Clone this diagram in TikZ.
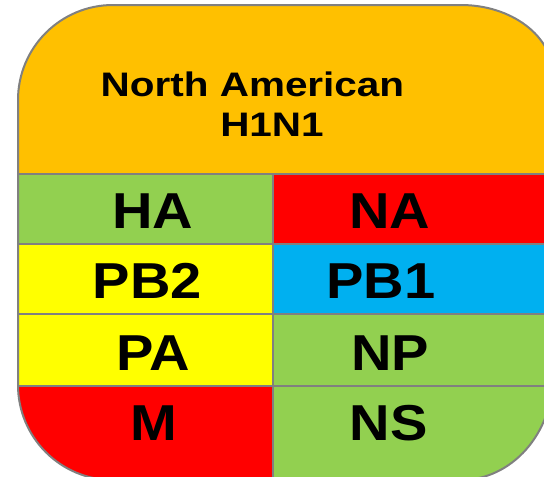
\documentclass[tikz,border=0pt]{standalone}
\usepackage{fontspec}
\setmainfont{Liberation Sans}
\definecolor{hdrorange}{HTML}{FFC000}
\definecolor{seggreen}{HTML}{92D050}
\definecolor{segred}{HTML}{FF0000}
\definecolor{segyellow}{HTML}{FFFF00}
\definecolor{segblue}{HTML}{00B0F0}
\definecolor{rimgray}{HTML}{808080}
\begin{document}
\begin{tikzpicture}[x=1pt,y=-1pt,
  shellpath/.style={insert path={
      (18,100) arc (180:270:95) -- (461,5)
      arc (270:360:92 and 70) -- (553,376)
      arc (0:90:92 and 104) -- (113,480)
      arc (90:180:95) -- cycle}},
  rim/.style={draw=rimgray, line width=2pt},
  titletext/.style={font=\fontsize{34}{34}\selectfont\bfseries, anchor=base,
      inner sep=0pt, xscale=1.19},
  segtext/.style={font=\fontsize{50.5}{50}\selectfont\bfseries, anchor=base,
      inner sep=0pt, xscale=1.11}]
\useasboundingbox (0,0) rectangle (544,477);
\clip (0,0) rectangle (544,477);

% coloured bands of the virus card
\begin{scope}
  \clip[shellpath];
  \fill[hdrorange] (0,0) rectangle (560,173.5);
  \fill[seggreen]  (0,173.5) rectangle (272.5,243.5);
  \fill[segred]    (272.5,173.5) rectangle (560,243.5);
  \fill[segyellow] (0,243.5) rectangle (272.5,314);
  \fill[segblue]   (272.5,243.5) rectangle (560,314);
  \fill[segyellow] (0,314) rectangle (272.5,385.5);
  \fill[seggreen]  (272.5,314) rectangle (560,385.5);
  \fill[segred]    (0,385.5) rectangle (272.5,490);
  \fill[seggreen]  (272.5,385.5) rectangle (560,490);
  % dividers between the gene segments
  \draw[rim] (0,173.5) -- (560,173.5);
  \draw[rim] (0,243.5) -- (560,243.5);
  \draw[rim] (0,314) -- (560,314);
  \draw[rim] (0,385.5) -- (560,385.5);
  \draw[rim] (272.5,173.5) -- (272.5,490);
\end{scope}
\draw[rim, shellpath];

% header
\node[titletext] (title1) at (252.5,96) {North American};
\node[titletext] (title2) at (272,136) {H1N1};

% gene segment labels
\node[segtext] (ha)  at (152.5,228.5) {HA};
\node[segtext] (na)  at (390,228.5) {NA};
\node[segtext] (pb2) at (147.5,298) {PB2};
\node[segtext] (pb1) at (381,298) {PB1};
\node[segtext] (pa)  at (153,370) {PA};
\node[segtext] (np)  at (390,370) {NP};
\node[segtext] (m)   at (154,440.5) {M};
\node[segtext] (ns)  at (388.5,440.5) {NS};
\end{tikzpicture}
\end{document}
